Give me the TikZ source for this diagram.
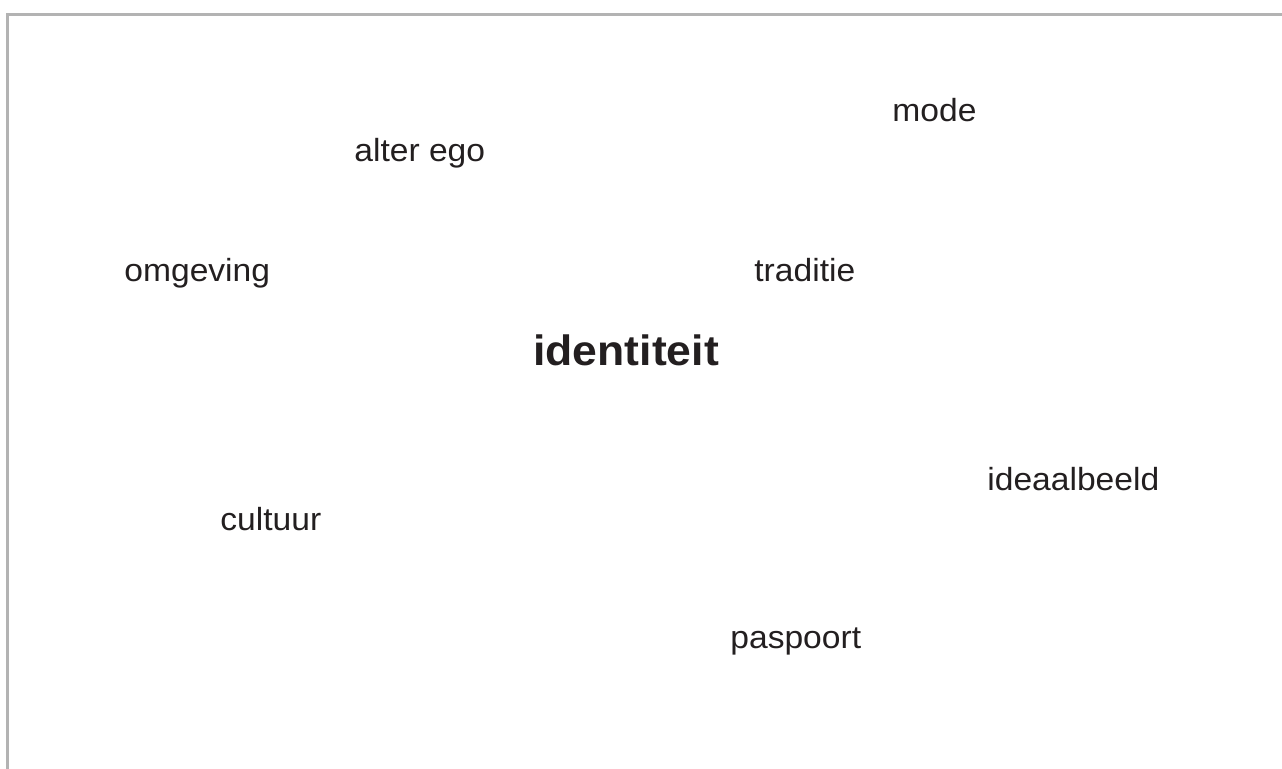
\documentclass[tikz,border=0pt]{standalone}
\usepackage{fontspec}
\setmainfont[FakeStretch=1.05]{Liberation Sans}
\definecolor{woordkleur}{HTML}{231F20}
\definecolor{randkleur}{HTML}{B3B3B3}
\tikzset{
  woord/.style={anchor=base west, inner sep=0pt, text=woordkleur,
    font=\fontsize{16}{19}\selectfont},
  kernwoord/.style={woord, font=\fontsize{21.2}{25}\selectfont\bfseries}
}
\begin{document}
\begin{tikzpicture}[x=0.5pt, y=-0.5pt]
      \useasboundingbox (0, 0) rectangle (1282, 768);
      \clip (0, 0) rectangle (1282, 768);
      \draw[randkleur, line width=1.5pt] (7, 800) -- (7, 14) -- (1300, 14);

      \node[kernwoord] (identiteit) at (533, 365) {identiteit};
      \node[woord] (mode) at (892, 121) {mode};
      \node[woord] (alterego) at (354, 161) {alter ego};
      \node[woord] (omgeving) at (124, 281) {omgeving};
      \node[woord] (traditie) at (754, 281) {traditie};
      \node[woord] (ideaalbeeld) at (987, 490) {ideaalbeeld};
      \node[woord] (cultuur) at (220, 530) {cultuur};
      \node[woord] (paspoort) at (730, 648) {paspoort};
    \end{tikzpicture}
\end{document}
